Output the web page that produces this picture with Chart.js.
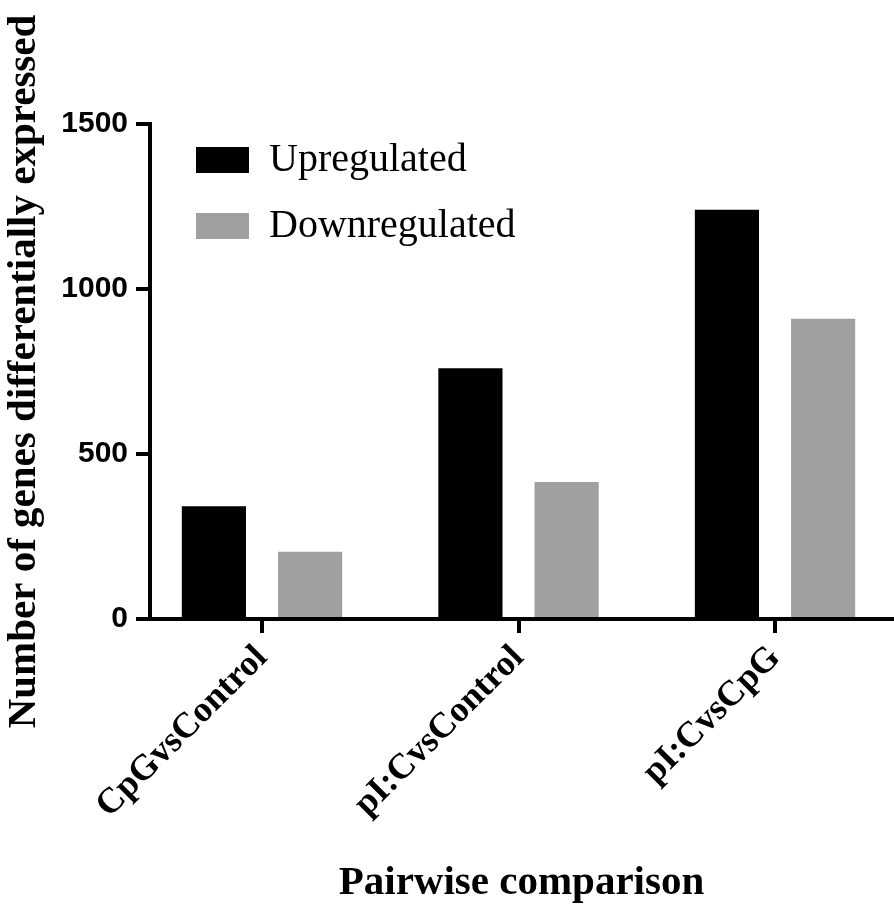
<!DOCTYPE html>
<html>
<head>
<meta charset="utf-8">
<script src="https://cdn.jsdelivr.net/npm/chart.js@4.4.0/dist/chart.umd.min.js"></script>
<style>
  html, body { margin: 0; padding: 0; background: #fff; }
</style>
</head>
<body>
<canvas id="chart" width="894" height="906"></canvas>
<script>
const categories = ["CpGvsControl", "pI:CvsControl", "pI:CvsCpG"]
const upregulated = [342, 760, 1240]
const downregulated = [204, 415, 910]
const yTicks = [0, 500, 1000, 1500]

const serif = "'Liberation Serif', 'Times New Roman', serif"
const sans = "'Liberation Sans', Arial, sans-serif"

// the legend sits inside the plot, top left
const legendInside = {
  id: "legendInside",
  afterLayout(chart) {
    const lg = chart.legend
    const dy = chart.chartArea.top - 10 - lg.top
    const dx = chart.chartArea.left + 20 - lg.left
    lg.top += dy
    lg.bottom += dy
    lg.left += dx
    lg.right += dx
  }
}

new Chart(document.getElementById("chart"), {
  type: "bar",
  data: {
    labels: categories,
    datasets: [{
        label: "Upregulated",
        data: upregulated,
        backgroundColor: "#000000"
      },
      {
        label: "Downregulated",
        data: downregulated,
        backgroundColor: "#a0a0a0"
      }
    ]
  },
  plugins: [legendInside],
  options: {
    responsive: false,
    animation: false,
    devicePixelRatio: 1,
    layout: {
      padding: { top: 124, right: 1 }
    },
    datasets: {
      bar: {
        categoryPercentage: 0.75,
        barPercentage: 0.667
      }
    },
    plugins: {
      tooltip: { enabled: false },
      legend: {
        position: "chartArea",
        align: "start",
        labels: {
          boxWidth: 53,
          boxHeight: 26,
          padding: 26,
          color: "#000",
          font: { family: serif, size: 40 }
        }
      }
    },
    scales: {
      x: {
        offset: true,
        border: { color: "#000", width: 4 },
        grid: {
          offset: false,
          drawOnChartArea: false,
          color: "#000",
          lineWidth: 4,
          tickLength: 14
        },
        ticks: {
          color: "#000",
          minRotation: 45,
          maxRotation: 45,
          padding: 4,
          font: { family: serif, size: 36, weight: "bold" }
        },
        title: {
          display: true,
          text: "Pairwise comparison",
          color: "#000",
          padding: { top: 0, bottom: 2 },
          font: { family: serif, size: 41, weight: "bold", lineHeight: 1 }
        },
        afterFit: scale => { scale.height = 906 - 619 },
        // the reference leaves a bit less room at the ends than a full half category
        afterBuildTicks: scale => {
          scale._valueRange = 2.8965
          scale._startValue = -0.4366
        }
      },
      y: {
        min: 0,
        max: 1500,
        border: { color: "#000", width: 4 },
        grid: {
          drawOnChartArea: false,
          color: "#000",
          lineWidth: 4,
          tickLength: 14
        },
        ticks: {
          color: "#000",
          padding: 8,
          font: { family: sans, size: 30, weight: "bold" },
          callback: v => String(v)
        },
        afterBuildTicks: scale => {
          scale.ticks = yTicks.map(v => ({ value: v }))
        },
        title: {
          display: true,
          text: "Number of genes differentially expressed",
          color: "#000",
          padding: { top: 4, bottom: 0 },
          font: { family: serif, size: 41, weight: "bold", lineHeight: 1 }
        },
        afterFit: scale => { scale.width = 150 }
      }
    }
  }
})
</script>
</body>
</html>
